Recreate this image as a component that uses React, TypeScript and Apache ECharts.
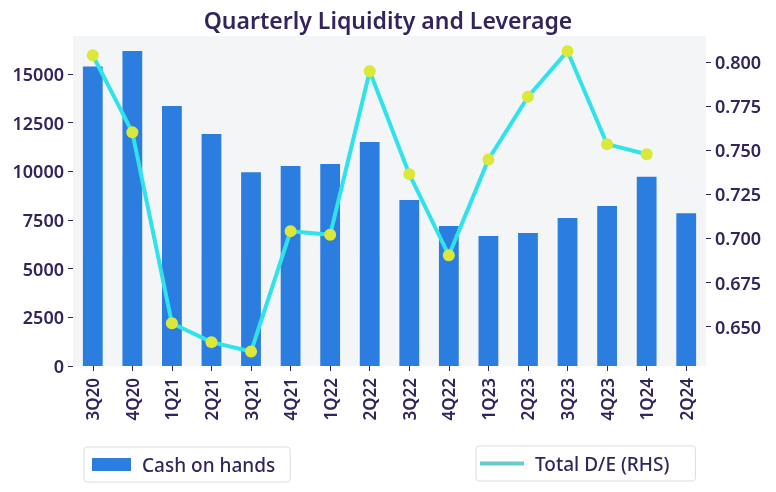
import React, { useEffect, useRef } from "react";
import * as echarts from "echarts";

const categories = ["3Q20","4Q20","1Q21","2Q21","3Q21","4Q21","1Q22","2Q22","3Q22","4Q22","1Q23","2Q23","3Q23","4Q23","1Q24","2Q24"];
const cashOnHands = [15380, 16180, 13350, 11920, 9950, 10270, 10380, 11500, 8530, 7190, 6680, 6830, 7600, 8220, 9720, 7840];
const totalDE: (number | null)[] = [0.8038, 0.7601, 0.6519, 0.6412, 0.6359, 0.7041, 0.7021, 0.7947, 0.7364, 0.6904, 0.7447, 0.7803, 0.8061, 0.7534, 0.7477, null];
const leftTicks = [0, 2500, 5000, 7500, 10000, 12500, 15000];
const rightTicks = [0.65, 0.675, 0.7, 0.725, 0.75, 0.775, 0.8];

const FONT = "Noto Sans";
const TEXT = "#33245c";

export default function App() {
  const ref = useRef<HTMLDivElement>(null);
  useEffect(() => {
    if (!ref.current) return;
    const chart = echarts.init(ref.current, null, { renderer: "svg" });
    chart.setOption({
      animation: false,
      textStyle: { fontFamily: FONT },
      title: {
        text: "Quarterly Liquidity and Leverage",
        left: "center",
        top: 3,
        textStyle: { fontFamily: FONT, fontSize: 23, fontWeight: 600, color: TEXT },
      },
      grid: {
        left: 73, right: 70, top: 36, bottom: 126,
        show: true, backgroundColor: "#f4f5f6", borderWidth: 0,
      },
      legend: [
        {
          data: [{ name: "Cash on hands", icon: "rect" }],
          left: 84, top: 447,
          orient: "horizontal",
          padding: [8, 15, 8, 8],
          itemWidth: 39, itemHeight: 13, itemGap: 10,
          borderColor: "#dddddd", borderWidth: 1, borderRadius: 3,
          textStyle: { fontFamily: FONT, fontSize: 19, fontWeight: 500, color: TEXT, padding: [0, 0, 0, 6] },
        },
        {
          data: [{ name: "Total D/E (RHS)", icon: "rect", itemStyle: { color: "#6ccaca" } }],
          left: 476, top: 446,
          padding: [8, 26, 8, 4],
          itemWidth: 44, itemHeight: 4, itemGap: 10,
          borderColor: "#dddddd", borderWidth: 1, borderRadius: 3,
          textStyle: { fontFamily: FONT, fontSize: 19, fontWeight: 500, color: TEXT, padding: [0, 0, 0, 6] },
        },
      ],
      xAxis: {
        type: "category",
        data: categories,
        boundaryGap: true,
        axisLine: { show: false },
        axisTick: { show: true, alignWithLabel: true, length: 5, lineStyle: { color: TEXT } },
        axisLabel: { rotate: 90, fontFamily: FONT, fontSize: 17, fontWeight: 600, color: TEXT, margin: 12 },
      },
      yAxis: [
        {
          type: "value",
          min: 0, max: 16950,
          splitLine: { show: false },
          axisLine: { show: false },
          axisTick: { show: true, length: 5, lineStyle: { color: TEXT }, customValues: leftTicks },
          axisLabel: {
            fontFamily: FONT, fontSize: 18, fontWeight: 600, color: TEXT, margin: 9,
            customValues: leftTicks,
            formatter: (v: number) => String(Math.round(v)),
          },
        },
        {
          type: "value",
          min: 0.6277, max: 0.8147,
          splitLine: { show: false },
          axisLine: { show: false },
          axisTick: { show: true, length: 5, lineStyle: { color: TEXT }, customValues: rightTicks },
          axisLabel: {
            fontFamily: FONT, fontSize: 18, fontWeight: 600, color: TEXT, margin: 9,
            customValues: rightTicks,
            formatter: (v: number) => v.toFixed(3),
          },
        },
      ],
      series: [
        {
          name: "Cash on hands",
          type: "bar",
          data: cashOnHands,
          barWidth: "50%",
          itemStyle: { color: "#2b7de0" },
          yAxisIndex: 0,
        },
        {
          name: "Total D/E (RHS)",
          type: "line",
          data: totalDE,
          yAxisIndex: 1,
          symbol: "circle",
          symbolSize: 12,
          connectNulls: false,
          lineStyle: { color: "#30e3ea", width: 4 },
          itemStyle: { color: "#dbe83a", borderWidth: 0 },
          z: 5,
        },
      ],
    });
    return () => chart.dispose();
  }, []);
  return <div ref={ref} style={{ position: "fixed", left: 0, top: 0, width: 776, height: 492 }} />;
}
